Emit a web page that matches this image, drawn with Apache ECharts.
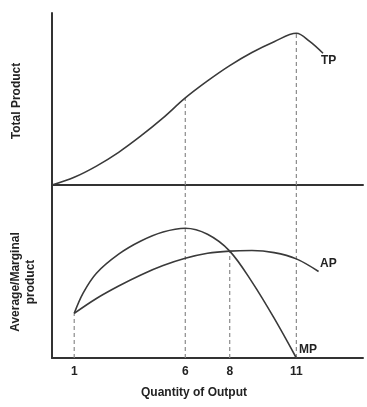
<!DOCTYPE html>
<html><head><meta charset="utf-8">
<script src="https://cdn.jsdelivr.net/npm/echarts@6/dist/echarts.min.js"></script>
<style>html,body{margin:0;padding:0;background:#fff}#c{width:367px;height:407px}</style>
</head><body><div id="c"></div>
<script>
// Data (x = quantity, y = arbitrary units 0-100)
const tpX = [0, 1, 2, 3, 4, 5, 6, 7, 8, 9, 10, 11, 11.6, 12.2];
const tpY = [0, 4.5, 11, 19, 28.5, 39, 50.6, 60.5, 69.4, 77, 83.3, 88.2, 83.5, 76.6];
const mpX = [1, 1.4, 2, 3, 4, 5, 6, 7, 8, 9, 10, 11];
const mpY = [25.8, 37.5, 49, 60, 67.6, 72.8, 75, 71.5, 61.8, 44, 23, 0];
const apX = [1, 2, 3, 4, 5, 6, 7, 8, 9, 10, 11, 12];
const apY = [25.8, 34.4, 41.6, 48, 53.4, 57.6, 60.5, 61.8, 62.1, 60.9, 57.3, 50];
const tickLabels = [1, 6, 8, 11];
const seriesNames = ['TP', 'AP', 'MP'];
const xTitle = 'Quantity of Output';
const yTitleTop = 'Total Product';
const yTitleBottom = 'Average/Marginal\nproduct';

const zip = (xs, ys) => xs.map((x, i) => [x, ys[i]]);
const font = '"Liberation Sans", Arial, Helvetica, sans-serif';
const axisCol = '#333';
const curveCol = '#3a3a3a';
const dashCol = '#8a8a8a';

const tp = zip(tpX, tpY), mp = zip(mpX, mpY), ap = zip(apX, apY);
const tpAt = x => tp.find(p => p[0] === x)[1];
const mpAt = x => mp.find(p => p[0] === x)[1];

function dash(xi, yi, x, y0, y1) {
  return { type: 'line', xAxisIndex: xi, yAxisIndex: yi, data: [[x, y0], [x, y1]],
    symbol: 'none', silent: true, z: 1,
    lineStyle: { color: dashCol, width: 1.2, type: [4, 3] } };
}
function curve(xi, yi, data, name) {
  return { type: 'line', name, xAxisIndex: xi, yAxisIndex: yi, data, smooth: 0.35,
    symbol: 'none', z: 3, lineStyle: { color: curveCol, width: 1.6 } };
}

const chart = echarts.init(document.getElementById('c'), null, { renderer: 'canvas' });
const axLine = { show: true, onZero: false, lineStyle: { color: axisCol, width: 2 } };
chart.setOption({
  animation: false,
  backgroundColor: '#fff',
  grid: [
    { left: 52, top: 13, right: 4, height: 172 },
    { left: 52, top: 185, right: 4, height: 173 }
  ],
  xAxis: [
    { gridIndex: 0, type: 'value', min: 0, max: 14, interval: 1,
      axisLine: axLine, axisTick: { show: false }, axisLabel: { show: false }, splitLine: { show: false } },
    { gridIndex: 1, type: 'value', min: 0, max: 14, interval: 1,
      axisLine: axLine, axisTick: { show: false }, splitLine: { show: false },
      axisLabel: { margin: 8, color: '#222', fontFamily: font, fontWeight: 'bold', fontSize: 12,
        formatter: v => tickLabels.includes(v) ? String(v) : '' } }
  ],
  yAxis: [
    { gridIndex: 0, type: 'value', min: 0, max: 100,
      axisLine: axLine, axisTick: { show: false }, axisLabel: { show: false }, splitLine: { show: false } },
    { gridIndex: 1, type: 'value', min: 0, max: 100,
      axisLine: axLine, axisTick: { show: false }, axisLabel: { show: false }, splitLine: { show: false } }
  ],
  series: [
    dash(0, 0, 6, 0, tpAt(6)),
    dash(0, 0, 11, 0, tpAt(11)),
    dash(1, 1, 1, 0, mpAt(1)),
    dash(1, 1, 6, 0, 100),
    dash(1, 1, 8, 0, mpAt(8)),
    dash(1, 1, 11, 0, 100),
    curve(0, 0, tp, seriesNames[0]),
    curve(1, 1, ap, seriesNames[1]),
    curve(1, 1, mp, seriesNames[2])
  ],
  graphic: [
    { type: 'text', left: 321, top: 55, style: { text: seriesNames[0], font: 'bold 12px ' + font, fill: '#222' } },
    { type: 'text', left: 320, top: 258, style: { text: seriesNames[1], font: 'bold 12px ' + font, fill: '#222' } },
    { type: 'text', left: 299, top: 344, style: { text: seriesNames[2], font: 'bold 12px ' + font, fill: '#222' } },
    { type: 'text', x: 194, y: 393, style: { text: xTitle, font: 'bold 12px ' + font, fill: '#222', align: 'center', verticalAlign: 'middle' } },
    { type: 'text', x: 16.5, y: 101, rotation: Math.PI / 2, style: { text: yTitleTop, font: 'bold 12px ' + font, fill: '#222', align: 'center', verticalAlign: 'middle' } },
    { type: 'text', x: 23, y: 282, rotation: Math.PI / 2, style: { text: yTitleBottom, font: 'bold 12px ' + font, lineHeight: 15, fill: '#222', align: 'center', verticalAlign: 'middle' } }
  ]
});
</script></body></html>
